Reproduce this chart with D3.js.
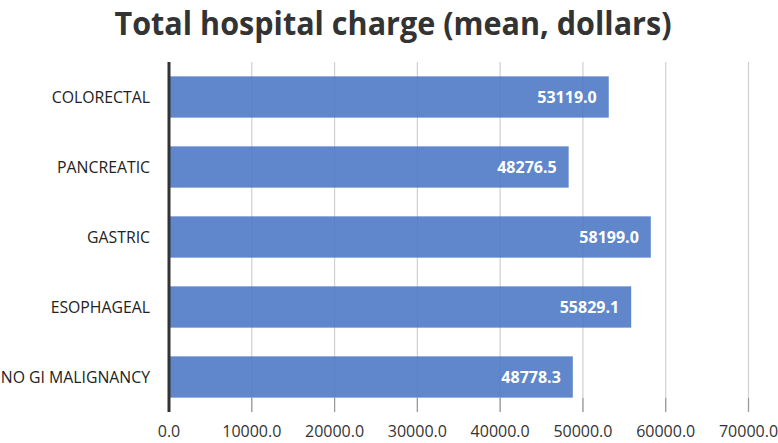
<!DOCTYPE html>
<html>
<head>
<meta charset="utf-8">
<script src="https://cdn.jsdelivr.net/npm/d3@7"></script>
<style>
  body { margin: 0; background: #fff; }
  text { font-family: "Open Sans", "Noto Sans", sans-serif; }
</style>
</head>
<body>
<div id="chart"></div>
<script>
const categories = ["COLORECTAL", "PANCREATIC", "GASTRIC", "ESOPHAGEAL", "NO GI MALIGNANCY"];
const values = [53119.0, 48276.5, 58199.0, 55829.1, 48778.3];
const ticks = [0, 10000, 20000, 30000, 40000, 50000, 60000, 70000];
const title = "Total hospital charge (mean, dollars)";

const width = 778, height = 443;
const margin = { top: 62, right: 30, bottom: 31, left: 169 };

const svg = d3.select("#chart").append("svg")
    .attr("width", width)
    .attr("height", height);

let x = d3.scaleLinear()
    .domain([0, 70000])
    .range([margin.left, 748.5]);

let y = d3.scaleBand()
    .domain(categories)
    .range([margin.top, height - margin.bottom])
    .paddingInner(0.41)
    .paddingOuter(0.205);

// title
svg.append("text")
    .attr("x", 393)
    .attr("y", 35)
    .attr("text-anchor", "middle")
    .attr("font-size", 32)
    .attr("font-weight", 700)
    .attr("fill", "#333")
    .attr("textLength", 557)
    .attr("lengthAdjust", "spacingAndGlyphs")
    .text(title);

// gridlines
svg.append("g")
    .selectAll("line")
    .data(ticks.slice(1))
    .enter().append("line")
    .attr("x1", d => x(d)).attr("x2", d => x(d))
    .attr("y1", margin.top).attr("y2", height - margin.bottom)
    .attr("stroke", "#d0d0d0")
    .attr("stroke-width", 1.2);

// tick marks at bottom
svg.append("g")
    .selectAll("line")
    .data(ticks.slice(1))
    .enter().append("line")
    .attr("x1", d => x(d)).attr("x2", d => x(d))
    .attr("y1", height - margin.bottom - 14).attr("y2", height - margin.bottom)
    .attr("stroke", "#999")
    .attr("stroke-width", 1.2);

// bars
svg.append("g")
    .selectAll("rect")
    .data(values)
    .enter().append("rect")
    .attr("x", x(0))
    .attr("y", (d, i) => y(categories[i]))
    .attr("width", d => x(d) - x(0))
    .attr("height", y.bandwidth())
    .attr("fill", "#4a76c4")
    .attr("fill-opacity", 0.88);

// value labels
svg.append("g")
    .selectAll("text")
    .data(values)
    .enter().append("text")
    .attr("x", d => x(d) - 12)
    .attr("y", (d, i) => y(categories[i]) + y.bandwidth() / 2)
    .attr("dy", "0.36em")
    .attr("text-anchor", "end")
    .attr("font-size", 16)
    .attr("font-weight", 700)
    .attr("fill", "#fff")
    .text(d => d.toFixed(1));

// category labels
svg.append("g")
    .selectAll("text")
    .data(categories)
    .enter().append("text")
    .attr("x", 150)
    .attr("y", d => y(d) + y.bandwidth() / 2)
    .attr("dy", "0.36em")
    .attr("text-anchor", "end")
    .attr("font-size", 15.8)
    .attr("fill", "#222")
    .text(d => d);

// x tick labels
svg.append("g")
    .selectAll("text")
    .data(ticks)
    .enter().append("text")
    .attr("x", d => x(d))
    .attr("y", 437)
    .attr("text-anchor", "middle")
    .attr("font-size", 16)
    .attr("fill", "#333")
    .text(d => d.toFixed(1));

// y axis line
svg.append("line")
    .attr("x1", x(0)).attr("x2", x(0))
    .attr("y1", margin.top).attr("y2", height - margin.bottom)
    .attr("stroke", "#333")
    .attr("stroke-width", 3);
</script>
</body>
</html>
